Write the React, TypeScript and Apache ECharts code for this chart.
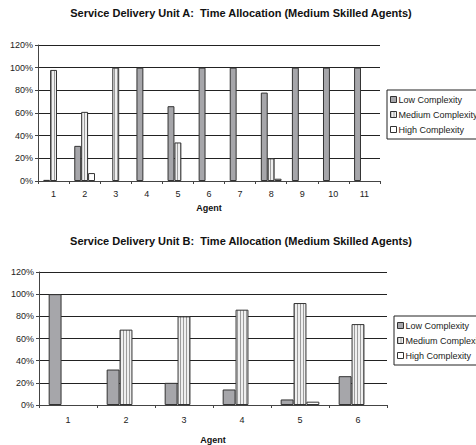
import React, { useEffect, useRef } from "react";
import * as echarts from "echarts";

const seriesNames = ["Low Complexity", "Medium Complexity", "High Complexity"];
const agentsA = ["1", "2", "3", "4", "5", "6", "7", "8", "9", "10", "11"];
const lowA = [1, 31, 0, 100, 66, 100, 100, 78, 100, 100, 100];
const medA = [98, 61, 100, 0, 34, 0, 0, 20, 0, 0, 0];
const highA = [0, 7, 0, 0, 0, 0, 0, 2, 0, 0, 0];
const agentsB = ["1", "2", "3", "4", "5", "6"];
const lowB = [100, 32, 20, 14, 5, 26];
const medB = [0, 68, 80, 86, 92, 73];
const highB = [0, 0, 0, 0, 3, 0];
const titleA = "Service Delivery Unit A:  Time Allocation (Medium Skilled Agents)";
const titleB = "Service Delivery Unit B:  Time Allocation (Medium Skilled Agents)";

const FONT = "Liberation Sans, Arial, sans-serif";

function stripePattern(): any {
  const c = document.createElement("canvas");
  c.width = 3;
  c.height = 2;
  const ctx = c.getContext("2d")!;
  ctx.fillStyle = "#efefef";
  ctx.fillRect(0, 0, 3, 2);
  ctx.fillStyle = "#9c9c9c";
  ctx.fillRect(0, 0, 1, 2);
  return { image: c.toDataURL(), repeat: "repeat" };
}

export default function App() {
  const ref = useRef<HTMLDivElement>(null);
  useEffect(() => {
    const chart = echarts.init(ref.current!, undefined, { renderer: "svg" });
    const stripe = stripePattern();
    const colors = ["#a6a6aa", stripe, "#ffffff"];
    const grids = [
      { left: 38, top: 45, width: 342, height: 136 },
      { left: 39, top: 272, width: 348, height: 134 },
    ];
    const xAxes = [agentsA, agentsB].map((cats, i) => ({
      type: "category",
      gridIndex: i,
      data: cats,
      name: "Agent",
      nameLocation: "middle",
      nameGap: i === 0 ? 22 : 30,
      nameTextStyle: { fontFamily: FONT, fontSize: 9, fontWeight: "bold", color: "#111" },
      axisLine: { lineStyle: { color: "#444", width: 1 } },
      axisTick: { show: true, length: 3, lineStyle: { color: "#444" } },
      axisLabel: { fontFamily: FONT, fontSize: 9, color: "#222", margin: i === 0 ? 8 : 10 },
    }));
    const yAxes = [0, 1].map((i) => ({
      type: "value",
      gridIndex: i,
      min: 0,
      max: 120,
      interval: 20,
      axisLine: { show: true, lineStyle: { color: "#444", width: 1 } },
      axisTick: { show: true, length: 3, lineStyle: { color: "#444" } },
      axisLabel: { fontFamily: FONT, fontSize: 9, color: "#222", margin: 5, formatter: "{value}%" },
      splitLine: { show: true, lineStyle: { color: "#222", width: 1 } },
    }));
    const dataSets = [
      [lowA, medA, highA],
      [lowB, medB, highB],
    ];
    const series: any[] = [];
    dataSets.forEach((set, gi) => {
      set.forEach((vals, si) => {
        series.push({
          type: "bar",
          name: seriesNames[si],
          xAxisIndex: gi,
          yAxisIndex: gi,
          data: vals.map((v) => (v === 0 ? "-" : v)),
          barGap: "0%",
          barCategoryGap: "33.3%",
          itemStyle: { color: colors[si], borderColor: "#333", borderWidth: 1 },
          emphasis: { disabled: true },
        });
      });
    });
    const legendBase = {
      orient: "vertical",
      data: seriesNames,
      itemWidth: 6,
      itemHeight: 6,
      itemGap: 6,
      padding: [5, 4, 5, 3],
      borderColor: "#222",
      borderWidth: 1,
      borderRadius: 0,
      backgroundColor: "#fff",
      icon: "rect",
      textStyle: { fontFamily: FONT, fontSize: 9, color: "#222", padding: [0, 0, 0, -3] },
      itemStyle: { borderColor: "#333", borderWidth: 1 },
      selectedMode: false,
    };
    const titleStyle = { fontFamily: FONT, fontSize: 11, fontWeight: "bold", color: "#111" };
    chart.setOption({
      animation: false,
      color: colors,
      title: [
        { text: titleA, left: 241, top: 7, textAlign: "center", padding: 0, textStyle: titleStyle },
        { text: titleB, left: 241, top: 235, textAlign: "center", padding: 0, textStyle: titleStyle },
      ],
      legend: [
        { ...legendBase, left: 387, top: 90 },
        { ...legendBase, left: 394, top: 316 },
      ],
      grid: grids,
      xAxis: xAxes,
      yAxis: yAxes,
      series,
    });
    return () => chart.dispose();
  }, []);
  return (
    <div
      ref={ref}
      style={{ position: "fixed", left: 0, top: 0, width: 476, height: 445, background: "#fff" }}
    />
  );
}
